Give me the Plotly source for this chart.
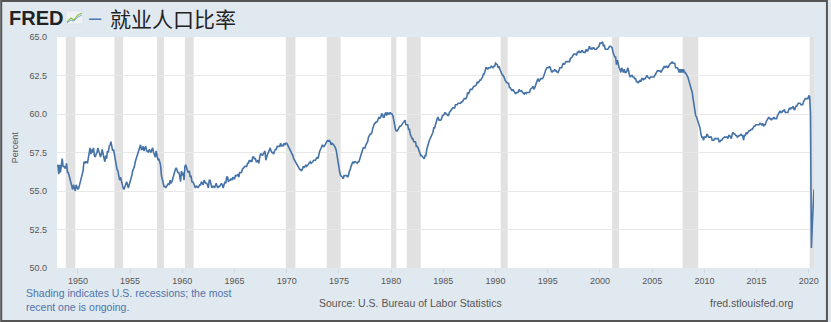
import pandas as pd
import plotly.graph_objects as go

# Civilian employment-population ratio, monthly, percent (Jan 1948 - Jul 2020)
emp_1940s = [
    56.6, 56.7, 56.1, 56.7, 56.2, 57.0, 57.1, 56.6, 56.6, 56.5, 56.5, 56.8,
    56.2, 56.2, 56.0, 55.7, 55.4, 55.2, 55.1, 55.4, 55.2, 55.0, 55.4, 55.2,
]
emp_1950s = [
    55.1, 55.2, 55.4, 55.7, 55.9, 56.0, 56.3, 56.9, 56.8, 56.9, 56.9, 56.8,
    57.1, 57.3, 57.8, 57.4, 57.7, 57.5, 57.8, 57.3, 57.2, 57.4, 57.5, 57.8,
    57.6, 57.4, 57.2, 57.4, 57.7, 57.4, 57.2, 56.9, 57.3, 57.1, 57.6, 57.5,
    57.9, 58.0, 58.2, 57.8, 57.6, 57.7, 57.4, 57.0, 56.6, 56.4, 56.3, 55.9,
    55.7, 55.9, 55.6, 55.5, 55.2, 55.1, 55.3, 55.4, 55.6, 55.4, 55.2, 55.4,
    55.6, 55.7, 56.0, 56.3, 56.4, 56.6, 56.9, 57.1, 57.3, 57.5, 57.6, 57.8,
    58.0, 57.7, 57.7, 57.9, 57.6, 57.8, 57.9, 57.6, 57.6, 57.5, 57.7, 57.6,
    57.5, 57.7, 57.8, 57.5, 57.4, 57.2, 57.6, 57.3, 57.0, 57.1, 56.8, 56.7,
    56.0, 55.7, 55.4, 55.3, 55.3, 55.2, 55.3, 55.4, 55.5, 55.4, 55.7, 55.5,
    55.6, 55.8, 56.0, 56.3, 56.4, 56.5, 56.4, 56.2, 56.2, 56.0, 55.6, 56.3,
]
emp_1960s = [
    56.0, 56.2, 55.7, 56.6, 56.7, 56.4, 56.3, 56.2, 56.3, 55.9, 56.0, 55.6,
    55.6, 55.5, 55.4, 55.2, 55.3, 55.3, 55.2, 55.3, 55.4, 55.4, 55.6, 55.5,
    55.4, 55.7, 55.6, 55.5, 55.5, 55.4, 55.2, 55.7, 55.7, 55.3, 55.2, 55.3,
    55.3, 55.2, 55.4, 55.5, 55.3, 55.2, 55.3, 55.3, 55.4, 55.5, 55.4, 55.2,
    55.4, 55.6, 55.5, 55.9, 55.9, 55.6, 55.7, 55.7, 55.8, 55.7, 55.9, 55.8,
    55.8, 56.0, 56.0, 56.0, 56.1, 55.9, 56.2, 56.2, 56.2, 56.4, 56.5, 56.5,
    56.6, 56.6, 56.6, 56.8, 56.8, 57.0, 56.9, 57.0, 56.9, 57.2, 57.2, 57.1,
    57.1, 56.9, 56.9, 57.0, 56.8, 57.2, 57.4, 57.4, 57.3, 57.4, 57.5, 57.6,
    57.0, 57.3, 57.4, 57.5, 57.7, 57.8, 57.6, 57.5, 57.5, 57.4, 57.6, 57.7,
    57.7, 57.9, 57.9, 57.9, 57.9, 58.1, 57.9, 58.0, 57.9, 58.1, 58.0, 58.1,
]
emp_1970s = [
    58.1, 58.0, 57.9, 57.8, 57.6, 57.5, 57.4, 57.3, 57.1, 57.0, 56.9, 56.8,
    56.7, 56.6, 56.5, 56.4, 56.4, 56.3, 56.4, 56.6, 56.5, 56.6, 56.7, 56.6,
    56.7, 56.8, 56.8, 56.9, 56.8, 56.9, 56.9, 57.0, 57.0, 57.0, 57.1, 57.2,
    57.1, 57.4, 57.6, 57.7, 57.8, 58.0, 57.9, 57.9, 58.0, 58.1, 58.2, 58.3,
    58.2, 58.3, 58.2, 58.0, 58.1, 58.0, 58.0, 57.9, 57.8, 57.6, 57.2, 56.9,
    56.7, 56.2, 56.0, 55.9, 55.9, 55.8, 56.0, 56.0, 56.0, 56.0, 55.9, 56.0,
    56.3, 56.4, 56.6, 56.8, 56.9, 56.8, 56.9, 56.9, 56.8, 56.8, 56.9, 56.9,
    57.1, 57.3, 57.5, 57.7, 57.8, 57.8, 57.8, 58.0, 58.1, 58.2, 58.5, 58.6,
    58.7, 58.7, 58.8, 59.1, 59.2, 59.4, 59.4, 59.5, 59.5, 59.6, 59.8, 59.7,
    59.8, 60.0, 60.0, 59.8, 59.8, 60.0, 60.1, 59.9, 60.1, 60.0, 60.0, 60.1,
]
emp_1980s = [
    60.0, 60.0, 59.9, 59.6, 59.2, 59.0, 58.9, 58.9, 59.0, 59.1, 59.2, 59.2,
    59.3, 59.4, 59.5, 59.6, 59.6, 59.3, 59.3, 59.3, 59.0, 59.0, 58.7, 58.5,
    58.4, 58.4, 58.2, 58.2, 58.2, 57.9, 57.9, 57.8, 57.6, 57.4, 57.3, 57.3,
    57.2, 57.1, 57.1, 57.3, 57.3, 57.7, 58.0, 58.1, 58.3, 58.4, 58.6, 58.7,
    58.8, 59.1, 59.1, 59.3, 59.6, 59.7, 59.8, 59.6, 59.6, 59.6, 59.7, 59.9,
    59.9, 60.0, 60.1, 60.0, 60.0, 59.9, 59.9, 60.1, 60.2, 60.2, 60.3, 60.4,
    60.4, 60.4, 60.6, 60.6, 60.6, 60.7, 60.7, 60.7, 60.7, 60.8, 60.8, 60.9,
    61.0, 61.0, 61.0, 61.1, 61.4, 61.3, 61.5, 61.6, 61.6, 61.6, 61.7, 61.8,
    61.8, 61.9, 61.9, 62.1, 62.0, 62.1, 62.2, 62.2, 62.3, 62.4, 62.6, 62.6,
    62.8, 63.0, 63.0, 62.9, 63.0, 63.0, 63.0, 63.1, 63.0, 63.0, 63.1, 63.1,
]
emp_1990s = [
    63.3, 63.2, 63.2, 63.0, 63.1, 62.9, 62.8, 62.7, 62.5, 62.5, 62.3, 62.2,
    62.1, 62.0, 62.0, 62.0, 61.7, 61.7, 61.6, 61.5, 61.6, 61.5, 61.4, 61.3,
    61.4, 61.4, 61.4, 61.6, 61.5, 61.5, 61.5, 61.4, 61.3, 61.3, 61.4, 61.3,
    61.4, 61.4, 61.4, 61.4, 61.6, 61.7, 61.7, 61.8, 61.6, 61.7, 61.9, 62.0,
    62.2, 62.3, 62.1, 62.2, 62.3, 62.3, 62.3, 62.4, 62.6, 62.8, 62.9, 63.0,
    63.0, 63.0, 63.1, 63.0, 62.8, 62.7, 62.8, 62.8, 62.9, 62.8, 62.8, 62.7,
    62.7, 62.9, 63.0, 63.0, 63.0, 63.2, 63.3, 63.2, 63.3, 63.4, 63.4, 63.4,
    63.4, 63.4, 63.6, 63.7, 63.7, 63.8, 63.9, 63.9, 63.9, 63.8, 64.0, 64.0,
    64.1, 64.0, 64.0, 64.1, 64.1, 64.0, 64.0, 64.0, 64.2, 64.1, 64.1, 64.2,
    64.4, 64.2, 64.3, 64.2, 64.3, 64.3, 64.2, 64.2, 64.2, 64.3, 64.4, 64.4,
]
emp_2000s = [
    64.6, 64.6, 64.6, 64.7, 64.4, 64.5, 64.2, 64.2, 64.2, 64.2, 64.3, 64.4,
    64.4, 64.3, 64.3, 64.0, 63.8, 63.7, 63.7, 63.2, 63.5, 63.2, 63.0, 62.9,
    62.7, 63.0, 62.8, 62.7, 62.9, 62.7, 62.7, 62.8, 63.0, 62.7, 62.5, 62.4,
    62.5, 62.5, 62.4, 62.4, 62.3, 62.3, 62.1, 62.1, 62.0, 62.1, 62.2, 62.1,
    62.3, 62.3, 62.2, 62.3, 62.3, 62.4, 62.5, 62.4, 62.3, 62.3, 62.4, 62.4,
    62.4, 62.4, 62.4, 62.5, 62.6, 62.7, 62.8, 62.8, 62.8, 62.8, 62.7, 62.8,
    62.9, 63.0, 63.1, 63.0, 63.1, 63.1, 63.0, 63.1, 63.2, 63.3, 63.3, 63.4,
    63.3, 63.3, 63.3, 63.0, 63.0, 63.0, 62.9, 62.7, 62.9, 62.7, 62.9, 62.7,
    62.9, 62.7, 62.7, 62.6, 62.5, 62.4, 62.2, 62.0, 61.9, 61.7, 61.4, 61.0,
    60.6, 60.3, 59.9, 59.8, 59.6, 59.4, 59.3, 59.1, 58.7, 58.5, 58.5, 58.3,
]
emp_2010s = [
    58.5, 58.5, 58.5, 58.7, 58.6, 58.5, 58.5, 58.5, 58.5, 58.3, 58.3, 58.3,
    58.4, 58.4, 58.4, 58.4, 58.4, 58.2, 58.2, 58.3, 58.3, 58.4, 58.5, 58.5,
    58.5, 58.5, 58.5, 58.4, 58.6, 58.6, 58.5, 58.4, 58.7, 58.8, 58.7, 58.7,
    58.6, 58.6, 58.5, 58.6, 58.6, 58.6, 58.7, 58.6, 58.6, 58.3, 58.6, 58.6,
    58.8, 58.7, 58.8, 58.9, 58.9, 59.0, 59.0, 59.0, 59.1, 59.2, 59.2, 59.3,
    59.3, 59.3, 59.3, 59.3, 59.4, 59.3, 59.3, 59.4, 59.2, 59.3, 59.3, 59.5,
    59.6, 59.7, 59.8, 59.7, 59.7, 59.6, 59.7, 59.7, 59.8, 59.7, 59.7, 59.7,
    59.9, 60.0, 60.1, 60.2, 60.1, 60.1, 60.2, 60.2, 60.3, 60.1, 60.1, 60.1,
    60.1, 60.3, 60.4, 60.3, 60.4, 60.4, 60.5, 60.3, 60.3, 60.5, 60.5, 60.6,
    60.7, 60.7, 60.7, 60.6, 60.6, 60.6, 60.8, 60.9, 61.0, 61.0, 61.0, 61.0,
]
emp_2020s = [61.2, 61.1, 60.0, 51.3, 52.8, 54.6, 55.1]

# NBER recession periods (start, end); the last one is still open
recession_start = ["1948-11-01", "1953-07-01", "1957-08-01", "1960-04-01",
                   "1969-12-01", "1973-11-01", "1980-01-01", "1981-07-01",
                   "1990-07-01", "2001-03-01", "2007-12-01", "2020-02-01"]
recession_end = ["1949-10-01", "1954-05-01", "1958-04-01", "1961-02-01",
                 "1970-11-01", "1975-03-01", "1980-07-01", "1982-11-01",
                 "1991-03-01", "2001-11-01", "2009-06-01", "2020-07-01"]

y_ticks = [50.0, 52.5, 55.0, 57.5, 60.0, 62.5, 65.0]
x_tick_years = list(range(1950, 2021, 5))

values = (emp_1940s + emp_1950s + emp_1960s + emp_1970s + emp_1980s
          + emp_1990s + emp_2000s + emp_2010s + emp_2020s)
dates = pd.date_range("1948-01-01", periods=len(values), freq="MS")

W, H = 831, 322
ML, MR, MT, MB = 57, 14, 37, 54
PW, PH = W - ML - MR, H - MT - MB


def px(x):
    return (x - ML) / PW


def py(y):
    return (H - MB - y) / PH


BG = "#e1e9f0"
LINE = "#4572a7"
TXT = "#555555"
NARROW = "Liberation Sans Narrow, Arial Narrow, Liberation Sans, Arial"

fig = go.Figure()
fig.add_trace(go.Scatter(
    x=dates, y=values, mode="lines",
    line=dict(color=LINE, width=1.6),
    hoverinfo="skip", showlegend=False,
))

shapes = []
for s, e in zip(recession_start, recession_end):
    shapes.append(dict(type="rect", xref="x", yref="paper", x0=s, x1=e,
                       y0=0, y1=1, fillcolor="#e1e1e1", line_width=0,
                       layer="below"))

# small chart icon next to the FRED wordmark
shapes.append(dict(type="rect", xref="paper", yref="paper",
                   x0=px(66), x1=px(83), y0=py(24), y1=py(11),
                   fillcolor="#eef2f4", line=dict(color="#d5dde3", width=0.6)))
shapes.append(dict(type="path", xref="paper", yref="paper",
                   path="M {},{} L {},{} L {},{} L {},{} L {},{}".format(
                       px(67), py(22), px(71), py(18), px(74), py(20),
                       px(78), py(15), px(82), py(13)),
                   line=dict(color="#8dc63f", width=1.2)))
shapes.append(dict(type="path", xref="paper", yref="paper",
                   path="M {},{} L {},{} L {},{} L {},{} L {},{}".format(
                       px(67), py(23), px(71), py(20), px(74), py(21),
                       px(78), py(17), px(82), py(15)),
                   line=dict(color="#7aa7d8", width=1.0)))

# outer frame of the graphic
shapes.append(dict(type="rect", xref="paper", yref="paper",
                   x0=px(1), x1=px(W - 1), y0=py(H - 1), y1=py(1),
                   line=dict(color="#555555", width=2), fillcolor="rgba(0,0,0,0)"))

annotations = [
    dict(text="<b>FRED</b>", x=px(7), y=py(18), xanchor="left", yanchor="middle",
         font=dict(family="Liberation Sans, Arial", size=20, color="#222222")),
    dict(text="–", x=px(87), y=py(17), xanchor="left", yanchor="middle",
         font=dict(family="Liberation Sans, Arial", size=22, color="#4e79b5")),
    dict(text="就业人口比率", x=px(108), y=py(18), xanchor="left", yanchor="middle",
         font=dict(family="Noto Sans CJK SC", size=21, color="#222222")),
    dict(text="Percent", x=px(15), y=py(147), textangle=-90,
         xanchor="center", yanchor="middle",
         font=dict(family=NARROW, size=9, color=TXT)),
    dict(text="Shading indicates U.S. recessions; the most<br>recent one is ongoing.",
         x=px(24), y=py(285), xanchor="left", yanchor="top", align="left",
         font=dict(family=NARROW, size=10.5, color="#4f73aa")),
    dict(text="Source: U.S. Bureau of Labor Statistics", x=px(412), y=py(303),
         xanchor="center", yanchor="middle",
         font=dict(family=NARROW, size=10.5, color=TXT)),
    dict(text="fred.stlouisfed.org", x=px(755), y=py(303),
         xanchor="center", yanchor="middle",
         font=dict(family=NARROW, size=10.5, color=TXT)),
]
for a in annotations:
    a.update(xref="paper", yref="paper", showarrow=False)

fig.update_layout(
    width=W, height=H, autosize=False,
    margin=dict(l=ML, r=MR, t=MT, b=MB, pad=0),
    paper_bgcolor=BG, plot_bgcolor="#ffffff",
    shapes=shapes, annotations=annotations,
    showlegend=False,
    xaxis=dict(
        type="date", range=[dates[0], dates[-1]],
        tickvals=[f"{yr}-01-01" for yr in x_tick_years],
        ticktext=[str(yr) for yr in x_tick_years],
        showgrid=False, zeroline=False, showline=False,
        ticks="outside", ticklen=4, tickcolor="#cfd8e0", tickwidth=1,
        tickfont=dict(family=NARROW, size=9, color=TXT),
    ),
    yaxis=dict(
        range=[50, 65], tickvals=y_ticks,
        ticktext=[f"{v:.1f}" for v in y_ticks],
        showgrid=True, gridcolor="#e8e8e8", gridwidth=1,
        zeroline=False, showline=False, ticks="",
        ticklabelstandoff=9,
        tickfont=dict(family=NARROW, size=9, color=TXT),
    ),
)

fig.write_html("out.html")
